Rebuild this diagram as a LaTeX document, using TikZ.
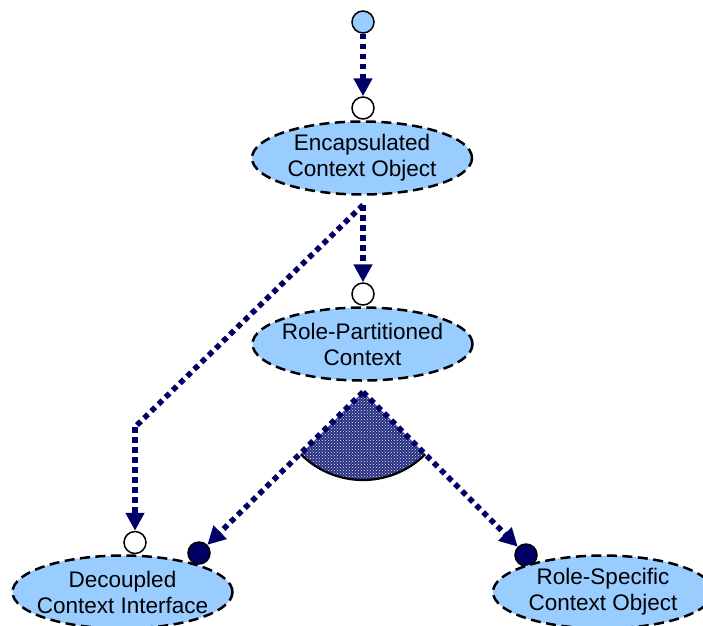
\documentclass[tikz,border=0pt]{standalone}
\usepackage{fontspec}
\setmainfont{Liberation Sans}
\usetikzlibrary{arrows.meta,shapes.geometric,patterns}
\definecolor{navyline}{HTML}{000066}
\definecolor{lightfill}{HTML}{99CCFF}
\definecolor{speck}{HTML}{2A2F80}
\newcommand{\zl}[1]{\makebox[0pt]{#1}}
\tikzset{
  role/.style={ellipse, draw=black, fill=lightfill, line width=2.5pt,
    dash pattern=on 10pt off 5.5pt, minimum width=220pt, minimum height=73pt,
    inner sep=0pt, align=center, font=\fontsize{22.5}{26}\selectfont},
  openport/.style={circle, draw=black, fill=white, line width=1.5pt,
    minimum size=22pt, inner sep=0pt},
  fullport/.style={circle, draw=black, fill=navyline, line width=1.5pt,
    minimum size=22pt, inner sep=0pt},
  srcport/.style={circle, draw=black, fill=lightfill, line width=1.5pt,
    minimum size=22pt, inner sep=0pt},
  flow/.style={draw=navyline, line width=5.5pt, dash pattern=on 5.5pt off 4.5pt,
    -{Triangle[length=18pt,width=18pt]}, line cap=butt},
  flowplain/.style={draw=navyline, line width=5.5pt, dash pattern=on 5.5pt off 4.5pt, line cap=butt},
}
\begin{document}
\begin{tikzpicture}[x=1pt,y=-1pt]
\useasboundingbox (0,0) rectangle (703,625);
\clip (0,0) rectangle (703,625);

% sector
\fill[speck] (363,392) coordinate (fork) -- ++(135:88) arc[start angle=135,end angle=45,radius=88] -- cycle;
\fill[pattern=crosshatch dots, pattern color=white!70!lightfill] (fork) -- ++(135:88) arc[start angle=135,end angle=45,radius=88] -- cycle;
\draw[black, line width=2.2pt] (fork) ++(135:88) arc[start angle=135,end angle=45,radius=88];

% nodes
\node[srcport] (src) at (363,22) {};
\node[openport] (in1) at (363,108) {};
\node[role] (eco) at (362,158) {\zl{Encapsulated}\\\zl{Context Object}};
\coordinate (ecoout) at (363,205);
\node[openport] (in2) at (363,294) {};
\node[role] (rpc) at (362.5,344) {\zl{Role-Partitioned}\\\zl{Context}};
\coordinate (bend) at (135,427);
\node[openport] (in3) at (135,542.5) {};
\node[fullport] (in4) at (199,553) {};
\node[fullport] (in5) at (526,555) {};
\node[role] (dci) at (122.5,592) {\zl{Decoupled}\\\zl{Context Interface}};
\node[role] (rsc) at (603,592) {\zl{Role-Specific}\\\zl{Context Object}};

% connectors
\draw[flow] (src) -- (in1);
\draw[flow] (ecoout) -- (in2);
\draw[flowplain] (ecoout) -- (bend);
\draw[flow] (bend) -- (in3);
\draw[flow] (fork) -- (in4);
\draw[flow] (fork) -- (in5);
\end{tikzpicture}
\end{document}
